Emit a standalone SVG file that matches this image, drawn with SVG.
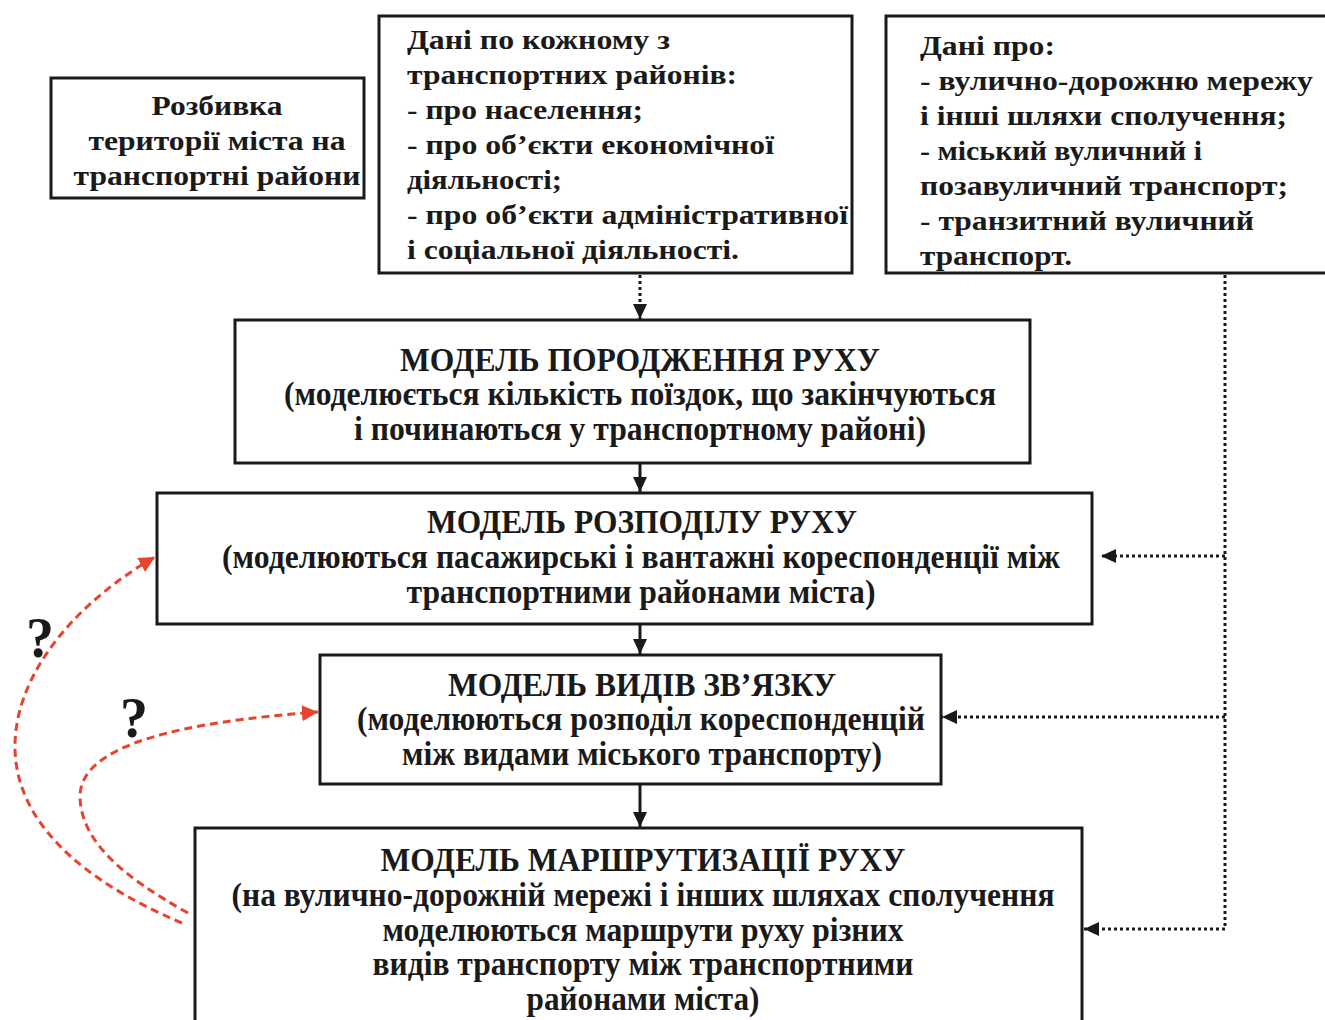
<svg xmlns="http://www.w3.org/2000/svg" width="1325" height="1020" viewBox="0 0 1325 1020">
<style>
.box{fill:#fff;stroke:#1a1a1a;stroke-width:3}
.t{font-family:"Liberation Serif","Times New Roman",serif;font-weight:bold;fill:#1a1a1a}
.s28{font-size:28px}
.s32{font-size:34px}
.c{text-anchor:middle}
.solid{stroke:#1a1a1a;stroke-width:3;fill:none}
.dot{stroke:#1a1a1a;stroke-width:3;fill:none;stroke-dasharray:3 3}
.red{stroke:#e8432e;stroke-width:3;fill:none;stroke-dasharray:8 5}
</style>
<defs>
<marker id="ab" markerUnits="userSpaceOnUse" markerWidth="16" markerHeight="16" refX="15" refY="8" orient="auto">
<path d="M0,1 L15,8 L0,15 z" fill="#1a1a1a"/>
</marker>
<marker id="ar" markerUnits="userSpaceOnUse" markerWidth="18" markerHeight="18" refX="16" refY="8" orient="auto">
<path d="M0,0 L16,8 L0,16 z" fill="#e8432e"/>
</marker>
</defs>
<rect width="1325" height="1020" fill="#fff"/>

<g id="connectors">
<line class="dot" x1="640" y1="275" x2="640" y2="319" marker-end="url(#ab)"/>
<line class="solid" x1="640" y1="464" x2="640" y2="492" marker-end="url(#ab)"/>
<line class="solid" x1="640" y1="625" x2="640" y2="654" marker-end="url(#ab)"/>
<line class="solid" x1="640" y1="785" x2="640" y2="827" marker-end="url(#ab)"/>
<polyline class="dot" points="1225,275 1225,929 1084,929" marker-end="url(#ab)"/>
<line class="dot" x1="1225" y1="556" x2="1101" y2="556" marker-end="url(#ab)"/>
<line class="dot" x1="1225" y1="717" x2="942" y2="717" marker-end="url(#ab)"/>
<path class="red" d="M182,923 C80,880 14,820 15,745 C16,670 80,600 155,557" marker-end="url(#ar)"/>
<path class="red" d="M188,913 C120,875 80,840 80,795 C82,745 180,722 318,712" marker-end="url(#ar)"/>
</g>

<g id="node-split">
<rect class="box" x="51" y="78" width="313" height="120"/>
<text class="t s28 c" x="217" y="115" textLength="131" lengthAdjust="spacingAndGlyphs">Розбивка</text>
<text class="t s28 c" x="217" y="150" textLength="257" lengthAdjust="spacingAndGlyphs">території міста на</text>
<text class="t s28 c" x="217" y="185" textLength="287" lengthAdjust="spacingAndGlyphs">транспортні райони</text>
</g>

<g id="node-data-districts">
<rect class="box" x="379" y="16" width="473" height="257"/>
<text class="t s28" x="407" y="49" textLength="263" lengthAdjust="spacingAndGlyphs">Дані по кожному з</text>
<text class="t s28" x="407" y="84" textLength="330" lengthAdjust="spacingAndGlyphs">транспортних районів:</text>
<text class="t s28" x="407" y="119" textLength="236" lengthAdjust="spacingAndGlyphs">- про населення;</text>
<text class="t s28" x="407" y="154" textLength="367" lengthAdjust="spacingAndGlyphs">- про об’єкти економічної</text>
<text class="t s28" x="407" y="189" textLength="155" lengthAdjust="spacingAndGlyphs">діяльності;</text>
<text class="t s28" x="407" y="224" textLength="441" lengthAdjust="spacingAndGlyphs">- про об’єкти адміністративної</text>
<text class="t s28" x="407" y="259" textLength="332" lengthAdjust="spacingAndGlyphs">і соціальної діяльності.</text>
</g>

<g id="node-data-network">
<rect class="box" x="886" y="16" width="460" height="257"/>
<text class="t s28" x="920" y="55" textLength="135" lengthAdjust="spacingAndGlyphs">Дані про:</text>
<text class="t s28" x="920" y="90" textLength="393" lengthAdjust="spacingAndGlyphs">- вулично-дорожню мережу</text>
<text class="t s28" x="920" y="125" textLength="367" lengthAdjust="spacingAndGlyphs">і інші шляхи сполучення;</text>
<text class="t s28" x="920" y="160" textLength="282" lengthAdjust="spacingAndGlyphs">- міський вуличний і</text>
<text class="t s28" x="920" y="195" textLength="368" lengthAdjust="spacingAndGlyphs">позавуличний транспорт;</text>
<text class="t s28" x="920" y="230" textLength="334" lengthAdjust="spacingAndGlyphs">- транзитний вуличний</text>
<text class="t s28" x="920" y="265" textLength="152" lengthAdjust="spacingAndGlyphs">транспорт.</text>
</g>

<g id="node-generation">
<rect class="box" x="235" y="320" width="795" height="143"/>
<text class="t s32 c" x="640" y="371" textLength="480" lengthAdjust="spacingAndGlyphs">МОДЕЛЬ ПОРОДЖЕННЯ РУХУ</text>
<text class="t s32 c" x="640" y="405" textLength="712" lengthAdjust="spacingAndGlyphs">(моделюється кількість поїздок, що закінчуються</text>
<text class="t s32 c" x="640" y="440" textLength="572" lengthAdjust="spacingAndGlyphs">і починаються у транспортному районі)</text>
</g>

<g id="node-distribution">
<rect class="box" x="157" y="493" width="935" height="131"/>
<text class="t s32 c" x="642" y="533" textLength="430" lengthAdjust="spacingAndGlyphs">МОДЕЛЬ РОЗПОДІЛУ РУХУ</text>
<text class="t s32 c" x="641" y="568" textLength="838" lengthAdjust="spacingAndGlyphs">(моделюються пасажирські і вантажні кореспонденції між</text>
<text class="t s32 c" x="641" y="603" textLength="469" lengthAdjust="spacingAndGlyphs">транспортними районами міста)</text>
</g>

<g id="node-modes">
<rect class="box" x="320" y="655" width="621" height="129"/>
<text class="t s32 c" x="642" y="696" textLength="388" lengthAdjust="spacingAndGlyphs">МОДЕЛЬ ВИДІВ ЗВ’ЯЗКУ</text>
<text class="t s32 c" x="641" y="730" textLength="568" lengthAdjust="spacingAndGlyphs">(моделюються розподіл кореспонденцій</text>
<text class="t s32 c" x="642" y="765" textLength="480" lengthAdjust="spacingAndGlyphs">між видами міського транспорту)</text>
</g>

<g id="node-routing">
<rect class="box" x="195" y="828" width="887" height="220"/>
<text class="t s32 c" x="643" y="871" textLength="525" lengthAdjust="spacingAndGlyphs">МОДЕЛЬ МАРШРУТИЗАЦІЇ РУХУ</text>
<text class="t s32 c" x="643" y="906" textLength="823" lengthAdjust="spacingAndGlyphs">(на вулично-дорожній мережі і інших шляхах сполучення</text>
<text class="t s32 c" x="643" y="941" textLength="521" lengthAdjust="spacingAndGlyphs">моделюються маршрути руху різних</text>
<text class="t s32 c" x="643" y="975" textLength="541" lengthAdjust="spacingAndGlyphs">видів транспорту між транспортними</text>
<text class="t s32 c" x="643" y="1010" textLength="233" lengthAdjust="spacingAndGlyphs">районами міста)</text>
</g>

<g id="labels">
<text class="t c" x="40" y="657" font-size="56">?</text>
<text class="t c" x="134" y="737" font-size="56">?</text>
</g>
</svg>
